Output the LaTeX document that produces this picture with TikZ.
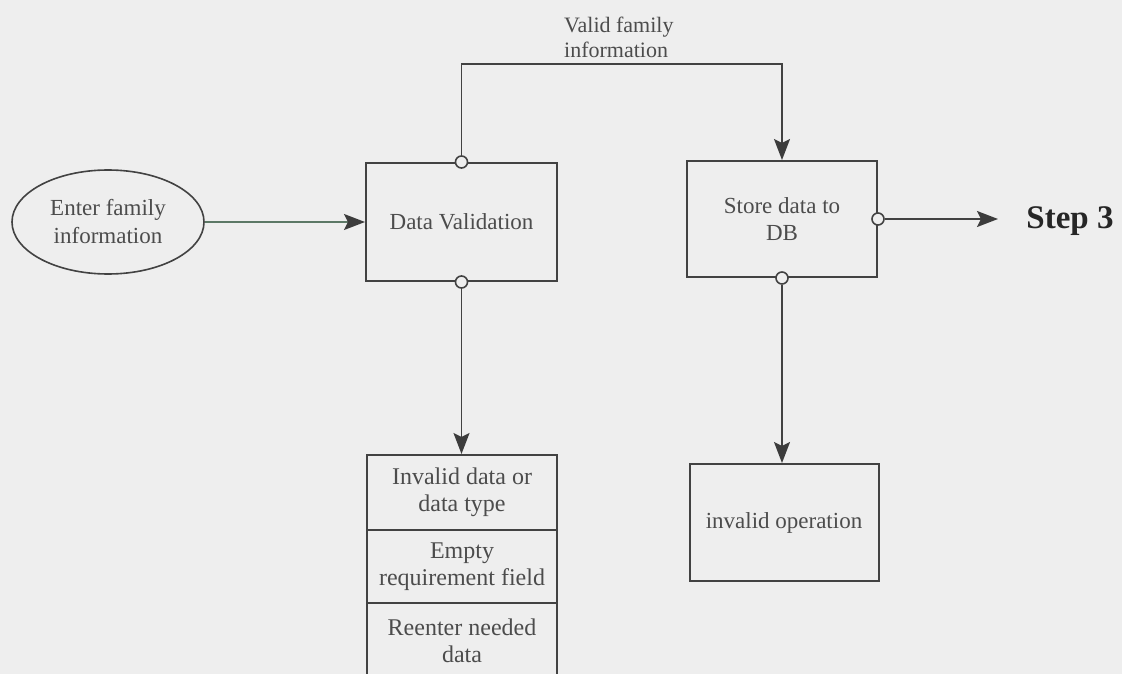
\documentclass[tikz,border=0pt]{standalone}
\usepackage{fontspec}
\setmainfont{Liberation Serif}
\usetikzlibrary{shapes.geometric,arrows.meta}
\definecolor{paper}{rgb}{0.935,0.935,0.935}
\definecolor{ink}{rgb}{0.26,0.26,0.26}
\definecolor{txt}{rgb}{0.30,0.30,0.30}
\definecolor{greenline}{rgb}{0.36,0.47,0.40}
\tikzset{
  box/.style={draw=ink, line width=2pt, fill=paper, inner sep=0pt, align=center,
    text=txt, font=\fontsize{23}{27}\selectfont},
  cell/.style={box, minimum width=190pt, font=\fontsize{24}{27}\selectfont},
  port/.style={circle, draw=ink, line width=1.6pt, fill=paper, inner sep=0pt, minimum size=12pt},
  flow/.style={draw=ink, line width=1.8pt,
    -{Stealth[length=21pt,width=16pt,inset=4pt,color=ink!90!black]}},
}
\begin{document}
\begin{tikzpicture}[x=1pt,y=-1pt]
  \clip (0,0) rectangle (1122,674);
  \fill[paper] (0,0) rectangle (1122,674);

  % source
  \node[ellipse, draw=ink, line width=1.6pt, minimum width=192pt, minimum height=104pt,
        inner sep=0pt, align=center, text=txt, font=\fontsize{23}{28}\selectfont]
        (enter) at (108,222) {Enter family\\information};

  % processes
  \node[box, minimum width=191pt, minimum height=118pt] (valid) at (461.5,222) {Data Validation};
  \node[box, minimum width=190pt, minimum height=116pt] (store) at (782,219) {Store data to\\DB};
  \node[box, minimum width=189pt, minimum height=117pt] (invop) at (784,522.5) {invalid operation};

  % error list under validation
  \node[cell, minimum height=75pt] (err1) at (462,492.5) {Invalid data or\\data type};
  \node[cell, minimum height=73pt] (err2) at (462,566.5) {Empty\\requirement field};
  \node[cell, minimum height=75pt] (err3) at (462,640.5) {Reenter needed\\data};

  % outgoing step
  \node[font=\bfseries\fontsize{33}{36}\selectfont, text=black!85] (step) at (1070,221) {Step 3};

  % ports
  \node[port] (pvtop) at (valid.north) {};
  \node[port] (pvbot) at (valid.south) {};
  \node[port] (psright) at (store.east) {};
  \node[port] (psbot) at (store.south) {};

  % connectors
  \draw[flow, draw=greenline] (enter.east) -- (valid.west);
  \coordinate (upL) at (pvtop.north |- 0,64);
  \coordinate (upR) at (store.north |- 0,64);
  \draw[flow] (pvtop.north) -- (upL) -- (upR) -- (store.north);
  \draw[flow] (pvbot.south) -- (pvbot.south |- err1.north);
  \draw[flow] (psbot.south) -- (psbot.south |- invop.north);
  \coordinate (stepin) at (998,0);
  \draw[flow] (psright.east) -- (psright.east -| stepin);

  % label on the upper connector
  \node[anchor=north west, inner sep=0pt, align=left, text=txt,
        font=\fontsize{22}{25}\selectfont] (vlabel) at (564,17) {Valid family\\information};
\end{tikzpicture}
\end{document}
